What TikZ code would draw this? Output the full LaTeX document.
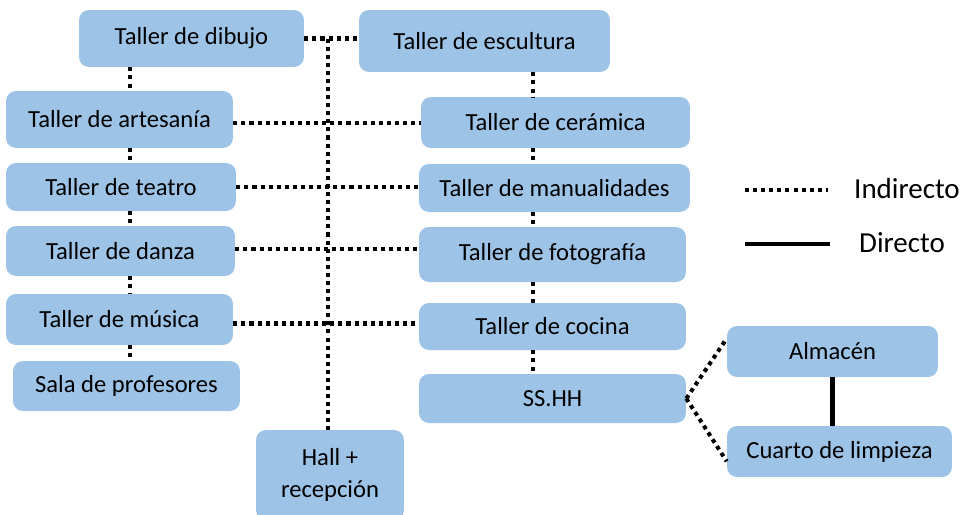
\documentclass[tikz,border=0pt]{standalone}
\usepackage{fontspec}
\setmainfont{Carlito}
\definecolor{cajaazul}{HTML}{9DC3E6}
\tikzset{
  taller/.style={fill=cajaazul, rounded corners=0.2cm, inner sep=0pt, align=center,
    font=\fontsize{14}{18}\selectfont},
  indirecto/.style={line width=2.3pt, dash pattern=on 2.3pt off 2.3pt},
  directo/.style={line width=2.3pt},
  leyenda/.style={font=\fontsize{16.5}{20}\selectfont, anchor=west}
}

\begin{document}
\begin{tikzpicture}[x=0.02cm, y=-0.02cm]
            \useasboundingbox (0,0) rectangle (969,514);

            % Left column
            \node[taller, minimum width=4.5cm, minimum height=1.14cm] (dibujo) at (191.5,38.5) {Taller de dibujo};
            \node[taller, minimum width=4.54cm, minimum height=1.14cm] (artesania) at (119.5,119.5) {Taller de artesanía};
            \node[taller, minimum width=4.6cm, minimum height=0.96cm] (teatro) at (121,187) {Taller de teatro};
            \node[taller, minimum width=4.58cm, minimum height=1.0cm] (danza) at (120.5,251) {Taller de danza};
            \node[taller, minimum width=4.54cm, minimum height=1.02cm] (musica) at (119.5,319.5) {Taller de música};
            \node[taller, minimum width=4.54cm, minimum height=1.0cm] (sala) at (126.5,386) {Sala de profesores};

            % Center column
            \node[taller, minimum width=5.02cm, minimum height=1.24cm] (escultura) at (484.5,41) {Taller de escultura};
            \node[taller, minimum width=5.38cm, minimum height=1.02cm] (ceramica) at (555.5,122.5) {Taller de cerámica};
            \node[taller, minimum width=5.42cm, minimum height=0.96cm] (manualidades) at (554.5,188) {Taller de manualidades};
            \node[taller, minimum width=5.34cm, minimum height=1.1cm] (fotografia) at (552.5,254.5) {Taller de fotografía};
            \node[taller, minimum width=5.34cm, minimum height=0.94cm] (cocina) at (552.5,326.5) {Taller de cocina};
            \node[taller, minimum width=5.34cm, minimum height=0.98cm] (sshh) at (552.5,398.5) {SS.HH};
            \node[taller, minimum width=2.96cm, minimum height=1.8cm] (hall) at (330,475) {Hall +\\recepción};

            % Right group
            \node[taller, minimum width=4.22cm, minimum height=1.02cm] (almacen) at (832.5,351.5) {Almacén};
            \node[taller, minimum width=4.5cm, minimum height=1.02cm] (cuarto) at (839.5,451.5) {Cuarto de limpieza};

            % Column axes
            \coordinate (colL) at (130,0);
            \coordinate (colC) at (533,0);
            \coordinate (colH) at (328,38.5);

            % Vertical links
            \draw[indirecto] (dibujo.south -| colL) -- (artesania.north -| colL);
            \draw[indirecto] (artesania.south -| colL) -- (teatro.north -| colL);
            \draw[indirecto] (teatro.south -| colL) -- (danza.north -| colL);
            \draw[indirecto] (danza.south -| colL) -- (musica.north -| colL);
            \draw[indirecto] (musica.south -| colL) -- (sala.north -| colL);
            \draw[indirecto] (escultura.south -| colC) -- (ceramica.north -| colC);
            \draw[indirecto] (ceramica.south -| colC) -- (manualidades.north -| colC);
            \draw[indirecto] (manualidades.south -| colC) -- (fotografia.north -| colC);
            \draw[indirecto] (fotografia.south -| colC) -- (cocina.north -| colC);
            \draw[indirecto] (cocina.south -| colC) -- (sshh.north -| colC);

            % Horizontal links
            \draw[indirecto] (dibujo.east) -- (dibujo.east -| escultura.west);
            \draw[indirecto] (colH) -- (colH |- hall.north);
            \draw[indirecto] ([yshift=-0.07cm]artesania.east) -- ([yshift=-0.07cm]artesania.east -| ceramica.west);
            \draw[indirecto] (teatro.east) -- (teatro.east -| manualidades.west);
            \draw[indirecto] ([yshift=0.04cm]danza.east) -- ([yshift=0.04cm]danza.east -| fotografia.west);
            \draw[indirecto] ([yshift=-0.08cm]musica.east) -- ([yshift=-0.08cm]musica.east -| cocina.west);

            % SS.HH branches
            \draw[indirecto] (sshh.east) -- (almacen.173);
            \draw[indirecto] (sshh.east) -- (cuarto.185);
            \draw[directo] (almacen.south) -- (almacen.south |- cuarto.north);

            % Legend
            \coordinate (legI1) at (745,190);
            \coordinate (legI2) at (828,190);
            \coordinate (legD1) at (745,244);
            \coordinate (legD2) at (830,244);
            \draw[indirecto] (legI1) -- (legI2);
            \draw[directo] (legD1) -- (legD2);
            \node[leyenda] (indirectoTxt) at (848,189) {Indirecto};
            \node[leyenda] (directoTxt) at (853,243) {Directo};
        \end{tikzpicture}
\end{document}
